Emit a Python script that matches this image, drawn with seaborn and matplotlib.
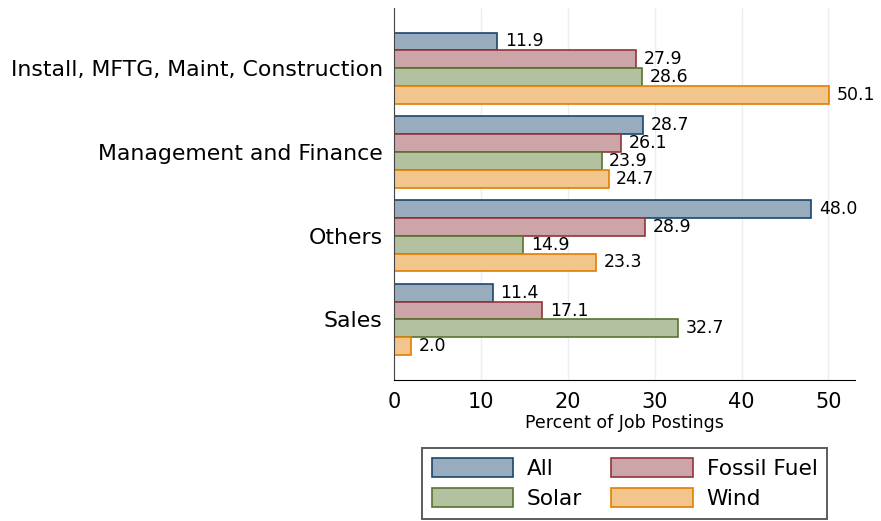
import pandas as pd
import numpy as np
import matplotlib.pyplot as plt
import matplotlib.colors as mcolors
from matplotlib.patches import Patch
import seaborn as sns

# Chart values
categories = ['Install, MFTG, Maint, Construction', 'Management and Finance', 'Others', 'Sales']
series = ['All', 'Fossil Fuel', 'Solar', 'Wind']
all_vals = [11.9, 28.7, 48.0, 11.4]
fossil_vals = [27.9, 26.1, 28.9, 17.1]
solar_vals = [28.6, 23.9, 14.9, 32.7]
wind_vals = [50.1, 24.7, 23.3, 2.0]

edge_colors = ['#1a476f', '#90353b', '#55752f', '#e37e00']


def lighten(c, a=0.45):
    rgb = np.array(mcolors.to_rgb(c))
    return tuple(a * rgb + (1 - a) * 1.0)


fill_colors = [lighten(c) for c in edge_colors]

# Long format table
rows = []
for name, vals in zip(series, [all_vals, fossil_vals, solar_vals, wind_vals]):
    for cat, v in zip(categories, vals):
        rows.append({'category': cat, 'series': name, 'value': v})
df = pd.DataFrame(rows)

sns.set_style("white")
plt.rcParams['font.family'] = ['DejaVu Sans']
plt.rcParams['text.color'] = 'black'
plt.rcParams['axes.labelcolor'] = 'black'
plt.rcParams['xtick.color'] = 'black'
plt.rcParams['ytick.color'] = 'black'

fig = plt.figure(figsize=(8.81, 5.21), dpi=100)
ax = fig.add_axes([0.447, 0.271, 0.523, 0.714])

sns.barplot(data=df, y='category', x='value', hue='series', order=categories,
            hue_order=series, palette=fill_colors, width=0.85, orient='h',
            saturation=1, ax=ax, legend=False)

for cont, ec in zip(ax.containers, edge_colors):
    for p in cont:
        p.set_edgecolor(ec)
        p.set_linewidth(1.2)
    ax.bar_label(cont, fmt='%.1f', padding=5.5, fontsize=12.5, clip_on=False)

ax.set_xlim(0, 53)
ax.set_ylim(3.72, -0.72)
ax.set_xticks([0, 10, 20, 30, 40, 50])
ax.tick_params(axis='x', labelsize=15, length=5, width=1, direction='out')
ax.tick_params(axis='y', labelsize=15.8, length=0, pad=8)
ax.set_xlabel('Percent of Job Postings', fontsize=12.5, labelpad=2)
ax.set_ylabel('')

ax.grid(axis='x', color='#eaeff4', linewidth=1)
ax.set_axisbelow(True)
sns.despine(ax=ax, top=True, right=True)
ax.spines['left'].set_color('#444444')
ax.spines['bottom'].set_color('black')

handles = [Patch(facecolor=f, edgecolor=e, linewidth=1.2) for f, e in zip(fill_colors, edge_colors)]
# column-wise fill: reorder so rows read All, Fossil Fuel / Solar, Wind
order = [0, 2, 1, 3]
leg = fig.legend([handles[i] for i in order], [series[i] for i in order],
                 loc='lower center', bbox_to_anchor=(0.709, 0.0), ncol=2,
                 fontsize=15.6, frameon=True, fancybox=False, edgecolor='#333333',
                 handlelength=3.76, handleheight=1.0, columnspacing=1.35, handletextpad=0.64,
                 labelspacing=0.42, borderpad=0.45, borderaxespad=0.1)
leg.get_frame().set_linewidth(1.4)

plt.savefig('out.png', dpi=100)
